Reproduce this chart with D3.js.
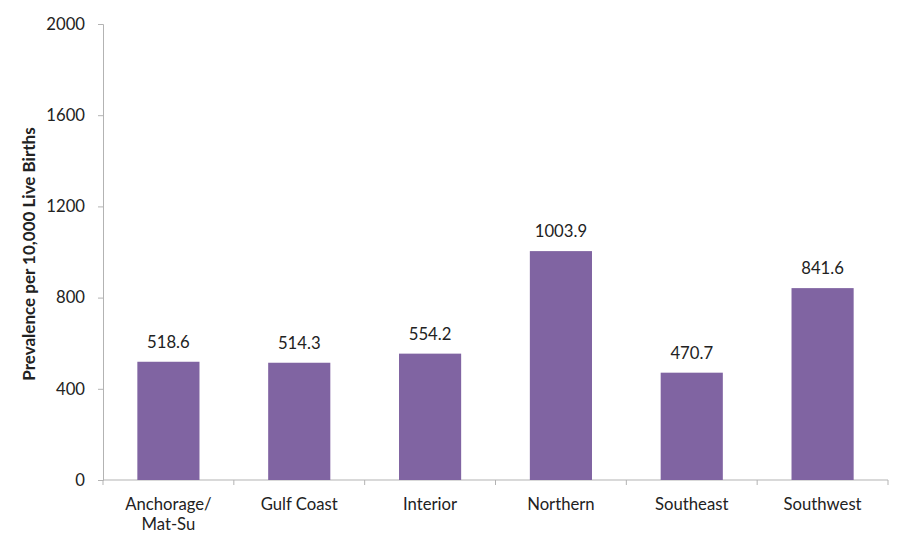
<!DOCTYPE html>
<html>
<head>
<meta charset="utf-8">
<script src="https://cdn.jsdelivr.net/npm/d3@7"></script>
<style>
  body { margin: 0; background: #fff; }
  text { font-family: Lato, "Open Sans", sans-serif; fill: #222; }
</style>
</head>
<body>
<svg id="chart" width="907" height="534"></svg>
<script>
const regions = [["Anchorage/", "Mat-Su"], ["Gulf Coast"], ["Interior"], ["Northern"], ["Southeast"], ["Southwest"]];
const prevalence = [518.6, 514.3, 554.2, 1003.9, 470.7, 841.6];
const yTicks = [0, 400, 800, 1200, 1600, 2000];

const svg = d3.select("#chart");
const margin = { top: 24, left: 103, right: 19, bottom: 54 };
const innerW = 907 - margin.left - margin.right;
const innerH = 534 - margin.top - margin.bottom;
const fs = "16.7px";

const g = svg.append("g").attr("transform", `translate(${margin.left},${margin.top})`);

const names = regions.map(r => r.join(" "));
const x = d3.scaleBand().domain(names).range([0, innerW]).paddingInner(0.525).paddingOuter(0.2625);
const y = d3.scaleLinear().domain([0, 2000]).range([innerH, 0]);

// y axis
const yAxis = g.append("g")
    .call(d3.axisLeft(y).tickValues(yTicks).tickFormat(d3.format("d")).tickSize(5).tickPadding(13));
yAxis.select(".domain").attr("stroke", "#b3b3b3");
yAxis.selectAll(".tick line").attr("stroke", "#b3b3b3");
yAxis.selectAll(".tick text").style("font-size", fs).attr("fill", "#222");

// x axis with ticks between categories
g.append("line")
    .attr("x1", 0).attr("x2", innerW)
    .attr("y1", innerH).attr("y2", innerH)
    .attr("stroke", "#b3b3b3");
g.selectAll(".xtick")
    .data(d3.range(names.length + 1))
    .join("line")
    .attr("x1", i => i * innerW / names.length)
    .attr("x2", i => i * innerW / names.length)
    .attr("y1", innerH).attr("y2", innerH + 5)
    .attr("stroke", "#b3b3b3");

g.selectAll(".xlabel")
    .data(regions)
    .join("text")
    .attr("text-anchor", "middle")
    .style("font-size", fs)
    .attr("transform", (d, i) => `translate(${x(names[i]) + x.bandwidth() / 2},${innerH + 30})`)
    .selectAll("tspan")
    .data(d => d)
    .join("tspan")
    .attr("x", 0)
    .attr("dy", (d, i) => i === 0 ? 0 : 20)
    .text(d => d);

// bars
g.selectAll("rect")
    .data(prevalence)
    .join("rect")
    .attr("x", (d, i) => x(names[i]))
    .attr("width", x.bandwidth())
    .attr("y", d => y(d))
    .attr("height", d => innerH - y(d))
    .attr("fill", "#8064a2");

// value labels
g.selectAll(".val")
    .data(prevalence)
    .join("text")
    .attr("x", (d, i) => x(names[i]) + x.bandwidth() / 2)
    .attr("y", d => y(d) - 14)
    .attr("text-anchor", "middle")
    .style("font-size", fs)
    .text(d => d.toFixed(1));

// y axis title
svg.append("text")
    .attr("transform", "translate(35,254) rotate(-90)")
    .attr("text-anchor", "middle")
    .style("font-size", "17px")
    .style("font-weight", "bold")
    .text("Prevalence per 10,000 Live Births");
</script>
</body>
</html>
